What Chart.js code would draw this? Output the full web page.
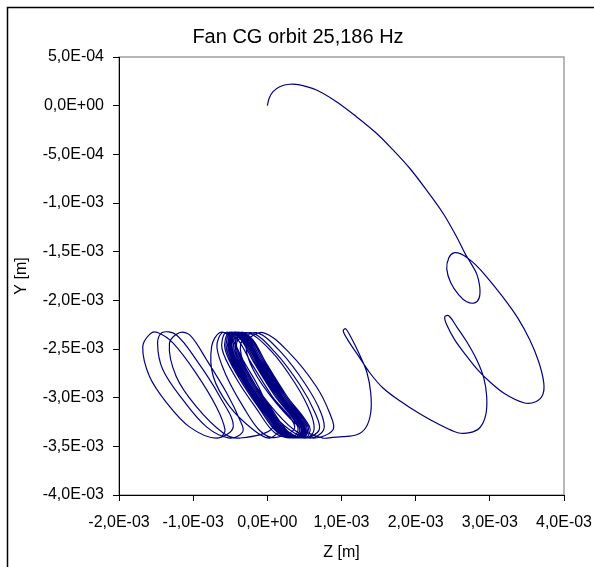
<!DOCTYPE html>
<html>
<head>
<meta charset="utf-8">
<script src="https://cdn.jsdelivr.net/npm/chart.js@4"></script>
<style>
  html, body { margin: 0; padding: 0; background: #fff; }
  canvas { display: block; }
</style>
</head>
<body>
<canvas id="orbit" width="594" height="567"></canvas>
<script>
// Tick values of both axes [m]
const zTicks = [-2e-3, -1e-3, 0, 1e-3, 2e-3, 3e-3, 4e-3];
const yTicks = [5e-4, 0, -5e-4, -1e-3, -1.5e-3, -2e-3, -2.5e-3, -3e-3, -3.5e-3, -4e-3];

// Start at the origin, first big arc and the small loop near Z = 2,6E-03
const arcZ = [0, 0.026e-3, 0.077e-3, 0.167e-3, 0.302e-3, 0.437e-3, 0.662e-3, 0.932e-3, 1.201e-3, 1.471e-3,
  1.695e-3, 1.920e-3, 2.145e-3, 2.369e-3, 2.550e-3, 2.675e-3, 2.742e-3, 2.823e-3, 2.864e-3, 2.857e-3,
  2.796e-3, 2.689e-3, 2.581e-3, 2.473e-3, 2.419e-3, 2.446e-3, 2.513e-3, 2.608e-3, 2.715e-3, 2.810e-3];
const arcY = [0, 0.079e-3, 0.144e-3, 0.195e-3, 0.220e-3, 0.213e-3, 0.161e-3, 0.041e-3, -0.113e-3, -0.283e-3,
  -0.455e-3, -0.643e-3, -0.866e-3, -1.105e-3, -1.345e-3, -1.533e-3, -1.615e-3, -1.728e-3, -1.861e-3, -1.974e-3,
  -2.026e-3, -2.015e-3, -1.944e-3, -1.820e-3, -1.677e-3, -1.564e-3, -1.512e-3, -1.523e-3, -1.574e-3, -1.636e-3];

// Right swing, loop near 2,4E-03 and loop near 1,0E-03
const swingZ = [2.945e-3, 3.174e-3, 3.376e-3, 3.538e-3, 3.659e-3, 3.727e-3, 3.713e-3, 3.619e-3, 3.457e-3, 3.201e-3,
  2.999e-3, 2.837e-3, 2.675e-3, 2.527e-3, 2.419e-3, 2.392e-3, 2.446e-3, 2.554e-3, 2.689e-3, 2.823e-3,
  2.918e-3, 2.958e-3, 2.945e-3, 2.864e-3, 2.729e-3, 2.567e-3, 2.324e-3, 2.055e-3, 1.785e-3, 1.556e-3,
  1.381e-3, 1.219e-3, 1.084e-3, 1.023e-3, 1.057e-3, 1.124e-3, 1.232e-3, 1.340e-3, 1.394e-3, 1.394e-3,
  1.327e-3, 1.205e-3, 1.017e-3, 0.882e-3];
const swingY = [-1.748e-3, -1.964e-3, -2.180e-3, -2.406e-3, -2.631e-3, -2.847e-3, -2.970e-3, -3.042e-3, -3.052e-3, -2.960e-3,
  -2.837e-3, -2.714e-3, -2.560e-3, -2.406e-3, -2.252e-3, -2.169e-3, -2.159e-3, -2.272e-3, -2.426e-3, -2.611e-3,
  -2.796e-3, -2.991e-3, -3.176e-3, -3.309e-3, -3.360e-3, -3.360e-3, -3.278e-3, -3.165e-3, -3.032e-3, -2.898e-3,
  -2.744e-3, -2.560e-3, -2.406e-3, -2.313e-3, -2.293e-3, -2.375e-3, -2.539e-3, -2.734e-3, -2.950e-3, -3.155e-3,
  -3.309e-3, -3.381e-3, -3.401e-3, -3.407e-3];

// Whirl loops of the cluster between -1,7E-03 and 0,9E-03
const clusterZ = [
  0.75e-3, 0.48e-3, 0.12e-3, -0.19e-3, -0.28e-3, -0.06e-3, 0.30e-3, 0.66e-3, 0.84e-3, 0.886e-3,
  0.62e-3, 0.36e-3, 0.02e-3, -0.27e-3, -0.36e-3, -0.15e-3, 0.18e-3, 0.52e-3, 0.72e-3, 0.76e-3,
  0.58e-3, 0.30e-3, -0.05e-3, -0.34e-3, -0.42e-3, -0.22e-3, 0.10e-3, 0.44e-3, 0.64e-3, 0.70e-3,
  0.50e-3, 0.22e-3, -0.12e-3, -0.40e-3, -0.48e-3, -0.28e-3, 0.05e-3, 0.38e-3, 0.58e-3, 0.63e-3,
  0.54e-3, 0.30e-3, 0.06e-3, -0.22e-3, -0.41e-3, -0.36e-3, -0.20e-3, -0.02e-3, 0.26e-3, 0.57e-3,
  0.52e-3, 0.28e-3, 0.04e-3, -0.24e-3, -0.43e-3, -0.38e-3, -0.22e-3, -0.04e-3, 0.24e-3, 0.55e-3,
  0.50e-3, 0.26e-3, 0.02e-3, -0.26e-3, -0.45e-3, -0.40e-3, -0.24e-3, -0.06e-3, 0.22e-3, 0.53e-3,
  0.48e-3, 0.24e-3, 0.00e-3, -0.28e-3, -0.47e-3, -0.42e-3, -0.26e-3, -0.08e-3, 0.20e-3, 0.51e-3,
  0.47e-3, 0.23e-3, -0.01e-3, -0.29e-3, -0.48e-3, -0.43e-3, -0.27e-3, -0.09e-3, 0.19e-3, 0.50e-3,
  0.46e-3, 0.22e-3, -0.02e-3, -0.30e-3, -0.49e-3, -0.44e-3, -0.28e-3, -0.10e-3, 0.18e-3, 0.49e-3,
  0.45e-3, 0.21e-3, -0.03e-3, -0.31e-3, -0.50e-3, -0.45e-3, -0.29e-3, -0.11e-3, 0.17e-3, 0.48e-3,
  0.44e-3, 0.20e-3, -0.04e-3, -0.32e-3, -0.51e-3, -0.46e-3, -0.30e-3, -0.12e-3, 0.16e-3, 0.47e-3,
  0.43e-3, 0.19e-3, -0.05e-3, -0.33e-3, -0.52e-3, -0.47e-3, -0.31e-3, -0.13e-3, 0.15e-3, 0.46e-3,
  0.42e-3, 0.18e-3, -0.06e-3, -0.34e-3, -0.53e-3, -0.48e-3, -0.32e-3, -0.14e-3, 0.14e-3, 0.45e-3,
  0.40e-3, 0.16e-3, -0.08e-3, -0.36e-3, -0.55e-3, -0.50e-3, -0.34e-3, -0.16e-3, 0.12e-3, 0.43e-3,
  0.38e-3, 0.14e-3, -0.10e-3, -0.38e-3, -0.57e-3, -0.52e-3, -0.36e-3, -0.18e-3, 0.10e-3, 0.41e-3,
  0.34e-3, 0.10e-3, -0.14e-3, -0.42e-3, -0.61e-3, -0.56e-3, -0.40e-3, -0.22e-3, 0.06e-3, 0.37e-3,
  0.10e-3, -0.10e-3, -0.32e-3, -0.55e-3, -0.68e-3, -0.60e-3, -0.46e-3, -0.30e-3, -0.05e-3, 0.16e-3,
  0.03e-3, -0.19e-3, -0.51e-3, -0.73e-3, -0.75e-3, -0.64e-3, -0.50e-3, -0.33e-3, -0.08e-3, 0.08e-3,
  -0.37e-3, -0.60e-3, -0.96e-3, -1.23e-3, -1.32e-3, -1.18e-3, -1.04e-3, -0.82e-3, -0.55e-3, -0.37e-3, -0.33e-3,
  -0.51e-3, -0.82e-3, -1.14e-3, -1.41e-3, -1.48e-3, -1.42e-3, -1.23e-3, -0.96e-3, -0.64e-3, -0.46e-3,
  -0.69e-3, -1.05e-3, -1.36e-3, -1.59e-3, -1.68e-3, -1.58e-3, -1.48e-3, -1.27e-3, -0.96e-3, -0.69e-3, -0.57e-3, -0.62e-3
];
const clusterY = [
  -3.415e-3, -3.33e-3, -3.055e-3, -2.714e-3, -2.44e-3, -2.331e-3, -2.542e-3, -2.885e-3, -3.158e-3, -3.33e-3,
  -3.415e-3, -3.33e-3, -3.06e-3, -2.73e-3, -2.45e-3, -2.332e-3, -2.53e-3, -2.87e-3, -3.15e-3, -3.33e-3,
  -3.415e-3, -3.33e-3, -3.06e-3, -2.73e-3, -2.45e-3, -2.332e-3, -2.53e-3, -2.87e-3, -3.15e-3, -3.33e-3,
  -3.415e-3, -3.32e-3, -3.05e-3, -2.72e-3, -2.45e-3, -2.332e-3, -2.52e-3, -2.86e-3, -3.15e-3, -3.33e-3,
  -3.41e-3, -3.36e-3, -3.12e-3, -2.80e-3, -2.50e-3, -2.33e-3, -2.40e-3, -2.64e-3, -2.98e-3, -3.30e-3,
  -3.41e-3, -3.36e-3, -3.12e-3, -2.80e-3, -2.50e-3, -2.34e-3, -2.40e-3, -2.64e-3, -2.98e-3, -3.30e-3,
  -3.40e-3, -3.36e-3, -3.12e-3, -2.80e-3, -2.50e-3, -2.33e-3, -2.40e-3, -2.64e-3, -2.98e-3, -3.30e-3,
  -3.41e-3, -3.36e-3, -3.12e-3, -2.80e-3, -2.50e-3, -2.33e-3, -2.40e-3, -2.64e-3, -2.98e-3, -3.30e-3,
  -3.41e-3, -3.36e-3, -3.12e-3, -2.80e-3, -2.50e-3, -2.34e-3, -2.40e-3, -2.64e-3, -2.98e-3, -3.30e-3,
  -3.41e-3, -3.36e-3, -3.12e-3, -2.80e-3, -2.50e-3, -2.33e-3, -2.40e-3, -2.64e-3, -2.98e-3, -3.30e-3,
  -3.40e-3, -3.36e-3, -3.12e-3, -2.80e-3, -2.50e-3, -2.33e-3, -2.40e-3, -2.64e-3, -2.98e-3, -3.30e-3,
  -3.41e-3, -3.36e-3, -3.12e-3, -2.80e-3, -2.50e-3, -2.33e-3, -2.40e-3, -2.64e-3, -2.98e-3, -3.30e-3,
  -3.41e-3, -3.36e-3, -3.12e-3, -2.80e-3, -2.50e-3, -2.34e-3, -2.40e-3, -2.64e-3, -2.98e-3, -3.30e-3,
  -3.41e-3, -3.36e-3, -3.12e-3, -2.80e-3, -2.50e-3, -2.33e-3, -2.40e-3, -2.64e-3, -2.98e-3, -3.30e-3,
  -3.41e-3, -3.36e-3, -3.12e-3, -2.80e-3, -2.50e-3, -2.33e-3, -2.40e-3, -2.64e-3, -2.98e-3, -3.30e-3,
  -3.41e-3, -3.36e-3, -3.12e-3, -2.80e-3, -2.50e-3, -2.33e-3, -2.40e-3, -2.64e-3, -2.98e-3, -3.30e-3,
  -3.41e-3, -3.36e-3, -3.12e-3, -2.80e-3, -2.50e-3, -2.33e-3, -2.40e-3, -2.64e-3, -2.98e-3, -3.30e-3,
  -3.41e-3, -3.34e-3, -3.10e-3, -2.78e-3, -2.48e-3, -2.33e-3, -2.42e-3, -2.68e-3, -3.02e-3, -3.31e-3,
  -3.415e-3, -3.33e-3, -3.09e-3, -2.78e-3, -2.47e-3, -2.331e-3, -2.37e-3, -2.61e-3, -2.95e-3, -3.30e-3,
  -3.415e-3, -3.36e-3, -3.09e-3, -2.78e-3, -2.44e-3, -2.331e-3, -2.36e-3, -2.61e-3, -2.95e-3, -3.23e-3, -3.35e-3,
  -3.415e-3, -3.30e-3, -3.02e-3, -2.71e-3, -2.44e-3, -2.331e-3, -2.354e-3, -2.61e-3, -2.99e-3, -3.30e-3,
  -3.415e-3, -3.30e-3, -3.05e-3, -2.78e-3, -2.48e-3, -2.345e-3, -2.331e-3, -2.44e-3, -2.75e-3, -3.09e-3, -3.33e-3, -3.41e-3
];

const orbitZ = arcZ.concat(swingZ, clusterZ);
const orbitY = arcY.concat(swingY, clusterY);
const points = orbitZ.map((z, i) => ({ x: z, y: orbitY[i] }));

// Excel style scientific labels: -2,0E-03
function sci(v) {
  const parts = Number(v).toExponential(1).split('e');
  const n = parseInt(parts[1], 10);
  return parts[0].replace('.', ',') + 'E' + (n < 0 ? '-' : '+') + String(Math.abs(n)).padStart(2, '0');
}

// gray plot frame and the outer chart border
const framePlugin = {
  id: 'frame',
  beforeDraw(chart) {
    const { ctx, chartArea: a } = chart;
    ctx.save();
    ctx.strokeStyle = '#a0a0a0';
    ctx.lineWidth = 1.5;
    ctx.strokeRect(a.left, a.top, a.right - a.left, a.bottom - a.top);
    ctx.strokeStyle = '#000';
    ctx.lineWidth = 1.5;
    ctx.beginPath();
    ctx.moveTo(7.5, chart.height);
    ctx.lineTo(7.5, 7.5);
    ctx.lineTo(chart.width, 7.5);
    ctx.stroke();
    ctx.restore();
  }
};

Chart.defaults.font.family = '"Liberation Sans", Arial, sans-serif';
Chart.defaults.color = '#000';

new Chart(document.getElementById('orbit'), {
  type: 'scatter',
  data: {
    datasets: [{
      data: points,
      showLine: true,
      borderColor: '#000080',
      borderWidth: 1.2,
      pointRadius: 0,
      tension: 0.35
    }]
  },
  options: {
    responsive: false,
    animation: false,
    layout: { padding: { left: 32, right: 30, top: 0, bottom: 0 } },
    plugins: {
      legend: { display: false },
      tooltip: { enabled: false },
      title: {
        display: true,
        text: 'Fan CG orbit 25,186 Hz',
        color: '#000',
        font: { size: 20, weight: 'normal' },
        padding: { top: 25, bottom: 8 }
      }
    },
    scales: {
      x: {
        type: 'linear',
        position: 'bottom',
        min: -2e-3,
        max: 4e-3,
        afterBuildTicks: (s) => { s.ticks = zTicks.map(value => ({ value })); },
        afterFit: (s) => { s.height = 72; s.paddingLeft = 0; s.paddingRight = 0; },
        grid: { drawOnChartArea: false, drawTicks: true, tickLength: 6, color: '#000' },
        border: { color: '#000', width: 1 },
        ticks: { callback: sci, font: { size: 16 }, color: '#000', padding: 12, maxRotation: 0, autoSkip: false },
        title: { display: true, text: 'Z [m]', font: { size: 16 }, color: '#000', padding: { top: 0, bottom: 5 } }
      },
      y: {
        type: 'linear',
        min: -4e-3,
        max: 5e-4,
        afterBuildTicks: (s) => { s.ticks = yTicks.map(value => ({ value })); },
        afterFit: (s) => { s.width = 87; s.paddingTop = 0; s.paddingBottom = 0; },
        grid: { drawOnChartArea: false, drawTicks: true, tickLength: 6, color: '#000' },
        border: { color: '#000', width: 1 },
        ticks: { callback: sci, font: { size: 16 }, color: '#000', padding: 9, autoSkip: false },
        title: { display: true, text: 'Y [m]', font: { size: 16 }, color: '#000', padding: { top: -19.6, bottom: 0 } }
      }
    }
  },
  plugins: [framePlugin]
});
</script>
</body>
</html>
